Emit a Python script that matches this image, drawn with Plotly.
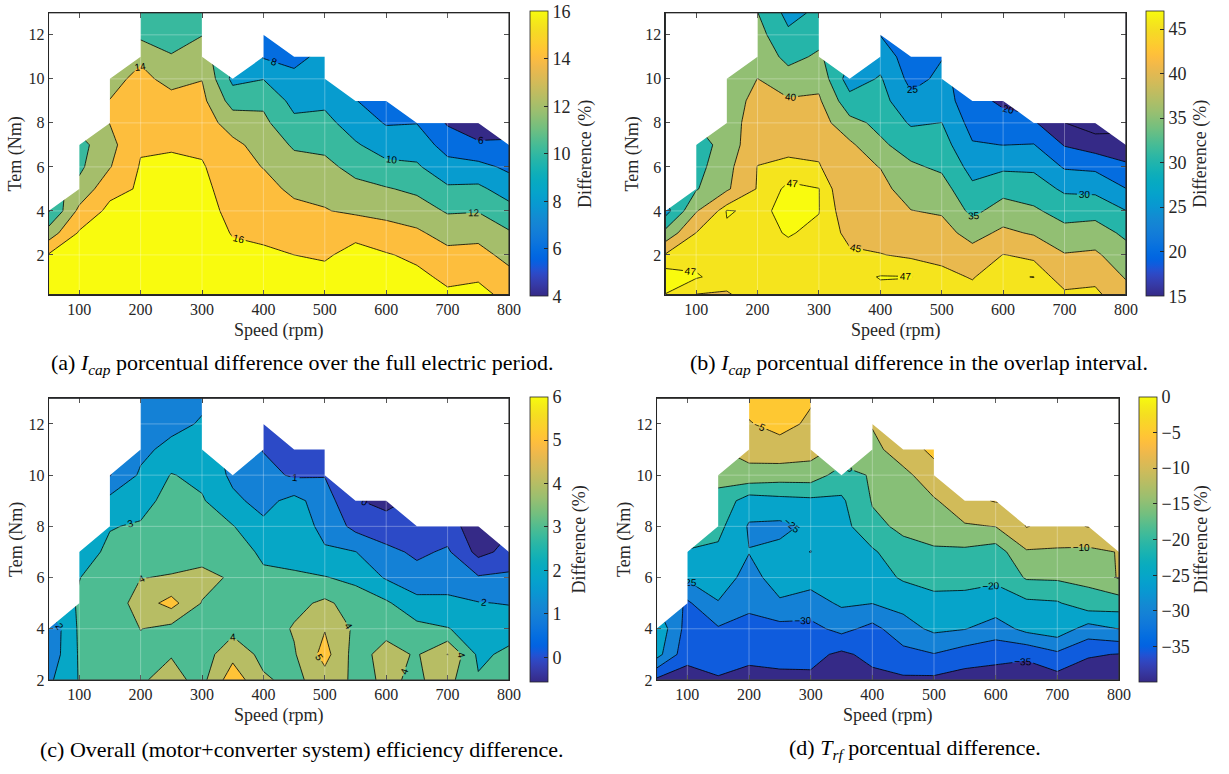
import plotly.graph_objects as go

# ---------------- data ----------------
speed = [50, 100, 150, 200, 250, 300, 350, 400, 450, 500, 550, 600, 650, 700, 750, 800]
tmax = [4, 7, 10, 13, 13, 13, 10, 12, 11, 11, 9, 9, 8, 8, 8, 7]
torque_ab = [0.2, 1, 2, 3, 4, 5, 6, 7, 8, 9, 10, 11, 12, 13]
torque_cd = [2, 3, 4, 5, 6, 7, 8, 9, 10, 11, 12, 13]

# (a) Icap difference, full electric period (one list per speed, bottom -> top)
icap_full = [
    [17.3, 16.9, 16.15, 12.9, 9.8],
    [17.5, 17.2, 16.8, 16.2, 14.5, 12.6, 11.6, 11.3],
    [17.4, 17.2, 16.9, 16.6, 16.5, 15.4, 13.9, 13.4, 14.05, 14.05, 13.4],
    [17.5, 17.3, 17.0, 16.8, 16.6, 16.2, 16.15, 15.8, 15.2, 14.8, 14.5, 13.7, 11.5, 11.0],
    [17.6, 17.5, 17.3, 17.1, 16.9, 16.6, 16.3, 15.85, 15.1, 14.6, 13.4, 12.1, 11.4, 11.0],
    [17.5, 17.3, 17.1, 16.9, 16.7, 16.5, 16.2, 15.6, 15.0, 14.5, 13.95, 12.9, 11.95, 11.2],
    [17.0, 16.8, 16.4, 15.9, 15.5, 15.1, 14.6, 14.5, 13.1, 11.2, 9.5],
    [17.0, 16.8, 16.25, 15.7, 15.1, 14.55, 13.95, 13.2, 12.45, 11.6, 9.95, 7.85, 7.2],
    [16.8, 16.5, 16.0, 15.2, 14.45, 13.65, 12.75, 11.75, 10.45, 9.4, 8.45, 7.5],
    [16.8, 16.5, 15.8, 15.0, 14.1, 13.5, 12.5, 11.55, 10.55, 9.6, 9.0, 8.5],
    [17.2, 16.9, 16.5, 15.6, 13.65, 12.55, 11.4, 10.2, 9.1, 8.05],
    [17.0, 16.8, 16.15, 14.8, 13.4, 12.15, 10.5, 9.1, 7.85, 7.3],
    [16.9, 16.45, 15.6, 14.3, 12.95, 11.6, 10.25, 9.1, 7.95],
    [16.3, 15.6, 14.55, 13.25, 11.8, 10.3, 8.7, 7.2, 5.8],
    [16.6, 15.75, 14.65, 13.4, 11.9, 10.4, 8.6, 6.25, 5.0],
    [15.4, 14.6, 13.4, 12.2, 10.7, 9.1, 7.6, 6.1],
]

# (b) Icap difference, overlap interval
icap_overlap = [
    [46.95, 48.0, 45.4, 36.5, 28.0],
    [44.95, 47.2, 46.3, 45.05, 39.6, 34.6, 33.2, 32.3],
    [44.7, 46.2, 46.0, 46.6, 47.2, 39.3, 38.5, 37.3, 37.5, 37.5, 36.5],
    [46.5, 46.5, 46.6, 46.6, 46.5, 45.3, 45.1, 43.5, 42.7, 41.5, 40.05, 38.5, 36.8, 35.1],
    [46.2, 46.3, 46.6, 47.1, 47.6, 47.5, 45.8, 44.0, 42.0, 40.5, 37.2, 33.5, 30.9, 28.5],
    [46.3, 46.4, 46.5, 46.7, 47.05, 47.05, 45.3, 44.0, 42.3, 40.7, 38.5, 35.8, 33.2, 31.0],
    [46.7, 46.3, 45.4, 44.3, 43.3, 42.3, 41.3, 41.0, 36.5, 31.8, 27.5],
    [46.5, 47.1, 45.1, 43.9, 42.7, 41.3, 39.9, 35.8, 33.8, 31.8, 30.5, 27.8, 24.9],
    [46.4, 47.05, 44.6, 42.5, 40.1, 37.9, 35.7, 33.0, 29.4, 26.2, 23.5, 22.5],
    [46.4, 45.8, 44.2, 41.8, 39.5, 37.0, 34.2, 32.2, 30.05, 27.5, 26.0, 24.8],
    [46.0, 44.8, 42.0, 38.2, 33.7, 31.0, 28.3, 25.4, 23.2, 21.8],
    [46.6, 46.8, 45.1, 41.0, 37.3, 33.3, 29.2, 24.95, 22.0, 19.0],
    [46.2, 47.03, 44.3, 39.5, 35.8, 32.3, 29.2, 25.2, 20.6],
    [45.6, 43.4, 40.3, 36.7, 32.9, 29.2, 24.5, 19.7, 15.05],
    [45.9, 43.9, 40.8, 37.2, 33.3, 28.8, 24.0, 17.5, 12.5],
    [42.0, 39.6, 37.0, 34.0, 30.1, 25.1, 21.3, 15.5],
]

# (c) overall efficiency difference
eff_diff = [
    [1.8, 1.3, 1.2],
    [3.05, 3.1, 3.15, 3.1, 2.98, 2.55],
    [3.3, 3.35, 3.3, 3.3, 3.4, 3.2, 2.95, 2.3, 0.95],
    [3.9, 3.75, 4.02, 4.5, 3.98, 3.6, 3.1, 2.65, 2.15, 1.75, 1.5, 1.35],
    [4.3, 3.95, 3.7, 5.35, 4.05, 3.7, 3.55, 3.35, 3.05, 2.3, 1.7, 1.4],
    [3.7, 3.5, 3.5, 3.95, 4.35, 3.5, 3.3, 3.1, 2.75, 2.5, 2.1, 1.8],
    [5.6, 4.7, 3.7, 3.4, 3.85, 3.4, 3.05, 2.2, 1.8],
    [4.15, 3.7, 3.4, 3.3, 3.15, 2.85, 2.2, 1.7, 1.35, 0.95, 0.6],
    [3.7, 3.9, 4.1, 3.7, 3.1, 2.75, 2.5, 2.3, 0.85, 0.7],
    [4.6, 5.35, 4.95, 4.2, 3.05, 2.1, 1.75, 1.5, 0.95, 0.8],
    [3.8, 3.6, 3.8, 3.55, 2.75, 2.02, 0.7, 0.05],
    [4.1, 4.35, 3.7, 3.15, 1.9, 1.3, 0.3, -0.2],
    [3.9, 3.9, 3.3, 2.3, 1.4, 0.8, 0.4],
    [4.3, 5.02, 3.05, 2.15, 1.7, 1.15, 0.45],
    [3.1, 2.8, 2.55, 2.05, 1.1, -0.3, -0.6],
    [3.6, 3.2, 2.6, 1.95, 1.2, 0.3],
]

# (d) Trf difference
trf_diff = [
    [-36.0, -23.0, -21.0],
    [-37.0, -33.5, -32.0, -30.8, -24.2, -20.2],
    [-35.5, -32.5, -30.5, -25.2, -23.2, -21.0, -18.5, -16.5, -13.5],
    [-37.0, -33.5, -31.5, -29.0, -26.2, -24.9, -25.5, -22.5, -11.5, -8.3, -5.3, -3.5],
    [-36.5, -33.0, -31.8, -25.4, -23.5, -24.0, -26.0, -21.5, -12.5, -7.0, -3.5, -3.0],
    [-36.0, -33.5, -31.5, -27.0, -23.2, -25.05, -24.2, -21.0, -12.5, -8.0, -5.8, -4.5],
    [-38.5, -36.0, -28.5, -24.3, -23.0, -22.5, -22.0, -20.8, -17.0],
    [-36.5, -33.5, -31.5, -24.9, -22.3, -20.8, -16.0, -14.7, -14.5, -12.0, -9.5],
    [-35.8, -31.5, -27.0, -23.5, -19.4, -16.3, -14.2, -12.5, -11.8, -6.5],
    [-36.0, -30.2, -24.0, -21.3, -18.5, -15.6, -13.0, -10.6, -6.2, -4.3],
    [-37.0, -32.5, -24.8, -21.5, -18.5, -16.0, -10.5, -6.5],
    [-37.5, -33.3, -27.5, -21.8, -19.3, -17.5, -9.9, -4.7],
    [-38.0, -34.0, -23.5, -21.0, -14.5, -10.5, -4.8],
    [-37.0, -31.0, -22.0, -20.5, -14.3, -10.6, -6.8],
    [-38.0, -34.5, -27.0, -17.0, -13.8, -11.2, -4.8],
    [-38.5, -35.2, -24.9, -17.5, -9.6, -9.8],
]

levels_a = [6, 8, 10, 12, 14, 16]
levels_b = [15, 20, 25, 30, 35, 40, 45]
extra_level_b = 47
levels_c = [0, 1, 2, 3, 4, 5]
levels_d = [-35, -30, -25, -20, -15, -10, -5]
clim_a = (4, 16)
clim_b = (15, 47)
clim_c = (-0.56, 6)
clim_d = (-39.9, 0)
cbticks_a = [4, 6, 8, 10, 12, 14, 16]
cbticks_b = [15, 20, 25, 30, 35, 40, 45]
cbticks_c = [0, 1, 2, 3, 4, 5, 6]
cbticks_d = [0, -5, -10, -15, -20, -25, -30, -35]
xticks = [100, 200, 300, 400, 500, 600, 700, 800]
yticks = [2, 4, 6, 8, 10, 12]

captions = [
    "(a) <i>I</i><sub><i>cap</i></sub> porcentual difference over the full electric period.",
    "(b) <i>I</i><sub><i>cap</i></sub> porcentual difference in the overlap interval.",
    "(c) Overall (motor+converter system) efficiency difference.",
    "(d) <i>T</i><sub><i>rf</i></sub> porcentual difference.",
]

# ---------------- parula colormap (64) ----------------
PARULA = [[0.2081, 0.1663, 0.5292], [0.2116, 0.1898, 0.5777], [0.2123, 0.2138, 0.6270], [0.2081, 0.2386, 0.6771],
          [0.1959, 0.2645, 0.7279], [0.1707, 0.2919, 0.7792], [0.1253, 0.3242, 0.8303], [0.0591, 0.3598, 0.8683],
          [0.0117, 0.3875, 0.8820], [0.0060, 0.4086, 0.8828], [0.0165, 0.4266, 0.8786], [0.0329, 0.4430, 0.8720],
          [0.0498, 0.4586, 0.8641], [0.0629, 0.4737, 0.8554], [0.0723, 0.4887, 0.8467], [0.0779, 0.5040, 0.8384],
          [0.0793, 0.5200, 0.8312], [0.0749, 0.5375, 0.8263], [0.0641, 0.5570, 0.8240], [0.0488, 0.5772, 0.8228],
          [0.0343, 0.5966, 0.8199], [0.0265, 0.6137, 0.8135], [0.0239, 0.6287, 0.8038], [0.0231, 0.6418, 0.7913],
          [0.0228, 0.6535, 0.7768], [0.0267, 0.6642, 0.7607], [0.0384, 0.6743, 0.7436], [0.0590, 0.6838, 0.7254],
          [0.0843, 0.6928, 0.7062], [0.1133, 0.7015, 0.6859], [0.1453, 0.7098, 0.6646], [0.1801, 0.7177, 0.6424],
          [0.2178, 0.7250, 0.6193], [0.2586, 0.7317, 0.5954], [0.3022, 0.7376, 0.5712], [0.3482, 0.7424, 0.5473],
          [0.3953, 0.7459, 0.5244], [0.4420, 0.7481, 0.5033], [0.4871, 0.7491, 0.4840], [0.5300, 0.7491, 0.4661],
          [0.5709, 0.7485, 0.4494], [0.6099, 0.7473, 0.4337], [0.6473, 0.7456, 0.4188], [0.6834, 0.7435, 0.4044],
          [0.7184, 0.7411, 0.3905], [0.7525, 0.7384, 0.3768], [0.7858, 0.7356, 0.3633], [0.8185, 0.7327, 0.3498],
          [0.8507, 0.7299, 0.3360], [0.8824, 0.7274, 0.3217], [0.9139, 0.7258, 0.3063], [0.9450, 0.7261, 0.2886],
          [0.9739, 0.7314, 0.2666], [0.9938, 0.7455, 0.2403], [0.9990, 0.7653, 0.2164], [0.9955, 0.7861, 0.1967],
          [0.9880, 0.8066, 0.1794], [0.9789, 0.8271, 0.1633], [0.9697, 0.8481, 0.1475], [0.9626, 0.8705, 0.1309],
          [0.9589, 0.8949, 0.1132], [0.9598, 0.9218, 0.0948], [0.9661, 0.9514, 0.0755], [0.9763, 0.9831, 0.0538]]


def rgb(c):
    return "rgb(%d,%d,%d)" % tuple(int(round(v * 255)) for v in c)


PARULA_CS = [[i / 63.0, rgb(c)] for i, c in enumerate(PARULA)]


def pcol(frac):
    idx = int(frac * 64)
    idx = max(0, min(63, idx))
    return rgb(PARULA[idx])


def to_grid(cols, torque):
    z = [[None] * len(speed) for _ in torque]
    for j, col in enumerate(cols):
        for i, v in enumerate(col):
            z[i][j] = v
    return z


def mask_poly(top, step):
    xs = [speed[0], speed[0]]
    ys = [top, tmax[0]]
    for i in range(len(speed) - 1):
        x0, x1, t0, t1 = speed[i], speed[i + 1], tmax[i], tmax[i + 1]
        if t1 > t0:
            xs += [x1, x1]
            ys += [t0 + step, t1]
        elif t1 < t0:
            xs += [x0, x1]
            ys += [t1 + step, t1]
        else:
            xs.append(x1)
            ys.append(t1)
    xs += [speed[-1], speed[0]]
    ys += [top, top]
    return xs, ys


W, H = 1229, 774
FONT = "Liberation Serif"
AXC = "#262626"
LABFONT = dict(family="Liberation Sans", size=10, color="black")

panels = [
    dict(z=icap_full, torque=torque_ab, levels=levels_a, clim=clim_a, cbt=cbticks_a,
         px=(49, 514), py=(13, 298), cbx=535, cbtitle=591, extra=None),
    dict(z=icap_overlap, torque=torque_ab, levels=levels_b, clim=clim_b, cbt=cbticks_b,
         px=(672, 1137), py=(13, 298), cbx=1157, cbtitle=1213, extra=extra_level_b),
    dict(z=eff_diff, torque=torque_cd, levels=levels_c, clim=clim_c, cbt=cbticks_c,
         px=(49, 514), py=(403, 688), cbx=535, cbtitle=585, extra=None),
    dict(z=trf_diff, torque=torque_cd, levels=levels_d, clim=clim_d, cbt=cbticks_d,
         px=(663, 1130), py=(403, 688), cbx=1150, cbtitle=1213, extra=None),
]

fig = go.Figure()
layout = dict(width=W, height=H, margin=dict(l=0, r=0, t=0, b=0), autosize=False,
              paper_bgcolor="white", plot_bgcolor="white", showlegend=False)
shapes = []
annotations = []

for k, p in enumerate(panels):
    n = "" if k == 0 else str(k + 1)
    xa, ya = "x" + n, "y" + n
    torque = p["torque"]
    ymin, ymax = torque[0], torque[-1]
    cmin, cmax = p["clim"]
    lv = p["levels"]
    step = lv[1] - lv[0]
    band_cols = [pcol(0)] + [pcol((l - cmin) / (cmax - cmin)) for l in lv]
    nc = len(lv)
    cs = [[j / nc, band_cols[j]] for j in range(nc + 1)]
    zgrid = to_grid(p["z"], torque)

    fig.add_trace(go.Contour(
        x=speed, y=torque, z=zgrid, connectgaps=True, autocontour=False,
        contours=dict(start=lv[0], end=lv[-1], size=step, coloring="fill",
                      showlabels=True, labelfont=LABFONT),
        colorscale=cs, showscale=False,
        line=dict(color="black", width=0.8, smoothing=0),
        hoverinfo="skip", xaxis=xa, yaxis=ya))

    if p["extra"] is not None:
        # constraint contours shade the region that violates the constraint -> z >= extra
        fig.add_trace(go.Contour(
            x=speed, y=torque, z=zgrid, connectgaps=True,
            contours=dict(type="constraint", operation="<", value=p["extra"],
                          showlabels=True, labelfont=LABFONT),
            fillcolor=pcol(1.0), line=dict(color="black", width=0.8, smoothing=0),
            showscale=False, hoverinfo="skip", xaxis=xa, yaxis=ya))

    mx, my = mask_poly(ymax + 1, torque[-1] - torque[-2])
    fig.add_trace(go.Scatter(x=mx, y=my, mode="lines", fill="toself", fillcolor="white",
                             line=dict(width=0, color="white"), hoverinfo="skip",
                             xaxis=xa, yaxis=ya))

    # continuous colorbar
    cyc = 1 - (p["py"][0] + p["py"][1]) / 2 / H
    fig.add_trace(go.Scatter(
        x=[speed[0], speed[0]], y=[ymin, ymin], mode="markers",
        marker=dict(size=1, opacity=0, color=[cmin, cmax], cmin=cmin, cmax=cmax,
                    colorscale=PARULA_CS, showscale=True,
                    colorbar=dict(x=p["cbx"] / W, xanchor="left", xpad=0, ypad=0,
                                  y=cyc, yanchor="middle", lenmode="pixels",
                                  len=p["py"][1] - p["py"][0], thickness=18,
                                  outlinecolor=AXC, outlinewidth=0.8,
                                  tickvals=p["cbt"], ticks="inside", ticklen=4,
                                  tickcolor=AXC,
                                  tickfont=dict(family=FONT, size=18, color=AXC))),
        hoverinfo="skip", xaxis=xa, yaxis=ya))

    dom_x = [p["px"][0] / W, p["px"][1] / W]
    dom_y = [1 - p["py"][1] / H, 1 - p["py"][0] / H]
    layout["xaxis" + n] = dict(domain=dom_x, anchor=ya, range=[speed[0], speed[-1]],
                               tickvals=xticks, ticks="inside", ticklen=5, tickcolor=AXC,
                               showline=True, linecolor=AXC, linewidth=0.8, mirror="ticks",
                               showgrid=False, zeroline=False,
                               tickfont=dict(family=FONT, size=16, color=AXC))
    layout["yaxis" + n] = dict(domain=dom_y, anchor=xa, range=[ymin, ymax],
                               tickvals=yticks, ticks="inside", ticklen=5, tickcolor=AXC,
                               showline=True, linecolor=AXC, linewidth=0.8, mirror="ticks",
                               showgrid=False, zeroline=False,
                               tickfont=dict(family=FONT, size=16, color=AXC))
    for xt in xticks[:-1]:
        shapes.append(dict(type="line", xref=xa, yref=ya, x0=xt, x1=xt, y0=ymin, y1=ymax,
                           line=dict(color="rgba(255,255,255,0.3)", width=1), layer="above"))
    for yt in yticks:
        shapes.append(dict(type="line", xref=xa, yref=ya, x0=speed[0], x1=speed[-1], y0=yt, y1=yt,
                           line=dict(color="rgba(255,255,255,0.3)", width=1), layer="above"))
    # axes box drawn on top of everything
    shapes.append(dict(type="rect", xref=xa + " domain", yref=ya + " domain",
                       x0=0, x1=1, y0=0, y1=1, line=dict(color=AXC, width=1),
                       fillcolor="rgba(0,0,0,0)", layer="above"))

    cx = (p["px"][0] + p["px"][1]) / 2 / W
    annotations.append(dict(text="Speed (rpm)", x=cx, y=1 - (p["py"][1] + 36) / H,
                            xref="paper", yref="paper", showarrow=False, xanchor="center",
                            yanchor="middle", font=dict(family=FONT, size=18, color=AXC)))
    annotations.append(dict(text="Tem (Nm)", x=(p["px"][0] - 33) / W, y=cyc,
                            xref="paper", yref="paper", showarrow=False, textangle=-90,
                            xanchor="center", yanchor="middle",
                            font=dict(family=FONT, size=18, color=AXC)))
    annotations.append(dict(text="Difference (%)", x=p["cbtitle"] / W, y=cyc,
                            xref="paper", yref="paper", showarrow=False, textangle=-90,
                            xanchor="center", yanchor="middle",
                            font=dict(family=FONT, size=18, color=AXC)))

cap_pos = [(305, 368), (928, 368), (304, 758), (924, 758)]
for text, (cx, cy) in zip(captions, cap_pos):
    annotations.append(dict(text=text, x=cx / W, y=1 - cy / H, xref="paper", yref="paper",
                            showarrow=False, xanchor="center", yanchor="middle",
                            font=dict(family=FONT, size=22, color="black")))

layout["shapes"] = shapes
layout["annotations"] = annotations
fig.update_layout(**layout)

post = ("document.documentElement.style.margin='0';"
        "document.body.style.margin='0';document.body.style.padding='0';")

fig.write_html("out.html", config={"displayModeBar": False},
               post_script=post)
